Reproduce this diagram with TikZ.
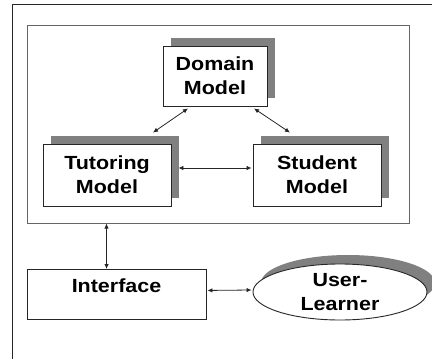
\documentclass[tikz,border=0pt]{standalone}
\usepackage{fontspec}
\setmainfont{Liberation Sans}[FakeStretch=1.13,BoldFeatures={FakeStretch=1.13}]
\usetikzlibrary{calc,arrows.meta,shapes.geometric}
\begin{document}
\begin{tikzpicture}[x=1pt,y=-1pt,
  font=\bfseries\fontsize{19}{24}\selectfont,
  modelbox/.style={draw=black!85,line width=0.9pt,fill=white,align=center,inner sep=0pt},
  shadowbox/.style={fill=black!50,inner sep=0pt},
  conn/.style={draw=black!85,line width=0.8pt,{Latex[length=5pt,width=4.5pt]}-{Latex[length=5pt,width=4.5pt]}}]
\useasboundingbox (0,0) rectangle (432,359);
% outer frame
\draw[black!85,line width=1pt] (12,359) -- (12,4) -- (432,4);
% inner frame
\node[draw=black!60,line width=1pt,minimum width=382pt,minimum height=198pt,inner sep=0pt] (core) at (218,124) {};
% shadows
\node[shadowbox,minimum width=104pt,minimum height=60pt] (domsh) at (223,68) {};
\node[shadowbox,minimum width=128pt,minimum height=62pt] (tutsh) at (115,167) {};
\node[shadowbox,minimum width=128pt,minimum height=62pt] (stush) at (325,167) {};
\node[ellipse,fill=black!50,minimum width=174pt,minimum height=56pt,inner sep=0pt] (usrsh) at (348,283) {};
% boxes
\node[modelbox,minimum width=104pt,minimum height=60pt] (dom) at (215,76) {Domain\\Model};
\node[modelbox,minimum width=128pt,minimum height=62pt] (tut) at (107,175) {Tutoring\\Model};
\node[modelbox,minimum width=128pt,minimum height=62pt] (stu) at (317,175) {Student\\Model};
\node[modelbox,minimum width=179pt,text height=22.7pt,text depth=27.3pt,anchor=north] (intf) at (116.5,269) {Interface};
\node[ellipse,draw=black!85,line width=0.9pt,fill=white,align=center,minimum width=174pt,minimum height=56pt,inner sep=0pt] (usr) at (340,292) {User-\\Learner};
% connectors
\draw[conn] ($(dom.south)+(-27,2)$) -- ($(tut.north)+(46,-11)$);
\draw[conn] ($(dom.south)+(39,2)$) -- ($(stu.north)+(-27,-11)$);
\draw[conn] ($(tut.east)+(7,-7)$) -- ($(stu.west)+(-1,-7)$);
\draw[conn] ($(core.south west)+(80,0)$) -- ($(intf.north west)+(80,0)$);
\draw[conn] ($(intf.east)+(1,-4)$) -- ($(usr.west)+(-1,-2)$);
\end{tikzpicture}
\end{document}
